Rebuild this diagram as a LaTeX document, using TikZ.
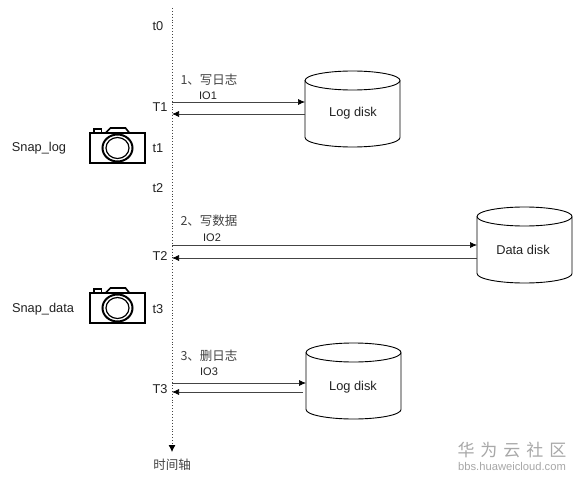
\documentclass[tikz,border=0pt]{standalone}
\usepackage{fontspec}
\setmainfont{Liberation Sans}
\newfontfamily\cjk{Noto Sans CJK SC}
\usetikzlibrary{arrows.meta,calc}
\definecolor{inkc}{HTML}{222222}
\definecolor{linec}{HTML}{444444}
\definecolor{wm}{HTML}{A8A8A8}
\tikzset{
  x=1pt,y=-1pt,
  lbl/.style={font=\fontsize{12.8}{14}\selectfont,text=inkc,inner sep=0pt},
  iolbl/.style={font=\fontsize{11}{12}\selectfont,text=inkc,inner sep=0pt},
  cjklbl/.style={font=\fontsize{12.5}{14}\selectfont\cjk,text=inkc!85,inner sep=0pt},
  diskbox/.style={minimum width=95pt,minimum height=76pt,inner sep=0pt,outer sep=0pt},
  diskline/.style={draw=black,line width=.9pt,line join=round},
  msg/.style={draw=linec,line width=.7pt,-{Latex[length=7pt,width=6pt,black]}},
  axisline/.style={draw=linec,line width=.9pt,dotted,-{Latex[length=7pt,width=7pt,black]}},
  cam/.style={draw=black,line width=2pt,line join=miter},
  camring/.style={draw=black,line width=1.2pt}
}
\newcommand{\diskshape}[1]{%
  \coordinate (#1tl) at ($(#1.north west)+(0,9.5)$);
  \coordinate (#1tr) at ($(#1.north east)+(0,9.5)$);
  \coordinate (#1bl) at ($(#1.south west)+(0,-9.5)$);
  \coordinate (#1br) at ($(#1.south east)+(0,-9.5)$);
  \draw[diskline] (#1tl) arc[x radius=47.5pt,y radius=9.5pt,start angle=180,end angle=540];
  \draw[diskline] (#1tl) -- (#1bl) arc[x radius=47.5pt,y radius=9.5pt,start angle=180,end angle=360] -- (#1tr);
}
\newcommand{\camera}[2]{%
  \begin{scope}[shift={(#1,#2)}]
    \draw[cam] (-27.5,-15) rectangle (27.5,15);
    \draw[cam,line width=1.6pt] (-12,-15) -- (-7,-20) -- (8,-20) -- (12,-15);
    \draw[cam,line width=1.3pt] (-23.5,-15) -- (-23.5,-19) -- (-16,-19) -- (-16,-15);
    \draw[camring,line width=2pt] (0,0) ellipse[x radius=15pt,y radius=13.5pt];
    \draw[camring] (0,0) ellipse[x radius=11.5pt,y radius=10.5pt];
  \end{scope}}
\begin{document}
\begin{tikzpicture}
\useasboundingbox (0,0) rectangle (580,481);
\fill[white] (0,0) rectangle (580,481);
% disks
\node[diskbox,anchor=north west] (log1) at (305,71) {};
\node[diskbox,anchor=north west] (data) at (477,207) {};
\node[diskbox,anchor=north west] (log3) at (306,343) {};
\diskshape{log1}\diskshape{data}\diskshape{log3}
\node[lbl] (log1t) at (353,113) {Log disk};
\node[lbl] (datat) at (523,250) {Data disk};
\node[lbl] (log3t) at (353,387) {Log disk};
% axis
\coordinate (axtop) at (172,8);
\node[cjklbl] (axis) at (172,465) {时间轴};
\draw[axisline] (axtop) -- ($(axis.north)+(0,-7)$);
% time labels
\node[lbl] (t0) at (158,26) {t0};
\node[lbl] (T1) at (160,107) {T1};
\node[lbl] (t1) at (158,148) {t1};
\node[lbl] (t2) at (158,188) {t2};
\node[lbl] (T2) at (160,256) {T2};
\node[lbl] (t3) at (158,309) {t3};
\node[lbl] (T3) at (160,389) {T3};
% anchors on axis
\coordinate (a1) at (172,102);
\coordinate (b1) at (172,114);
\coordinate (a2) at (172,245);
\coordinate (b2) at (172,258);
\coordinate (a3) at (172,383);
\coordinate (b3) at (172,392);
% messages
\draw[msg] (a1) -- (a1 -| log1.west);
\draw[msg] (b1 -| log1.west) -- (b1);
\draw[msg] (a2) -- (a2 -| data.west);
\draw[msg] (b2 -| data.west) -- (b2);
\draw[msg] (a3) -- (a3 -| log3.west);
\draw[msg] ($(b3 -| log3.west)+(-3,0)$) -- (b3);
% message labels
\node[cjklbl] (m1) at (209,80) {1、写日志};
\node[iolbl] (io1) at (208,96) {IO1};
\node[cjklbl] (m2) at (209,221) {2、写数据};
\node[iolbl] (io2) at (212,238) {IO2};
\node[cjklbl] (m3) at (209,356) {3、删日志};
\node[iolbl] (io3) at (209,372) {IO3};
% snapshots
\node[lbl] (s1) at (39,148) {Snap\_log};
\node[lbl] (s2) at (43,309) {Snap\_data};
\camera{117.5}{148}
\camera{117.5}{308}
% watermark
\node[font=\fontsize{17}{19}\selectfont\cjk,text=wm,inner sep=0pt] (w1) at (512,450) {华\hspace{6pt}为\hspace{6pt}云\hspace{6pt}社\hspace{6pt}区};
\node[font=\fontsize{11.2}{13}\selectfont,text=wm,inner sep=0pt] (w2) at (512,466) {bbs.huaweicloud.com};
\end{tikzpicture}
\end{document}
